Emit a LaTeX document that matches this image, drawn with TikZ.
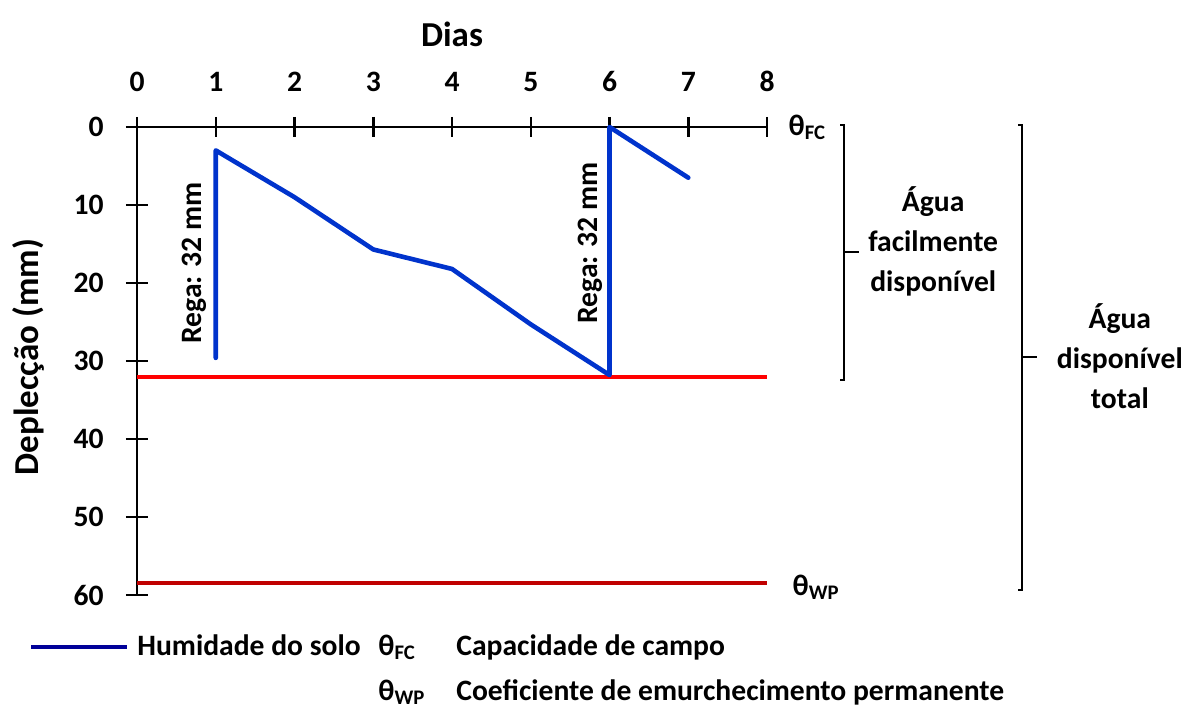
\documentclass[tikz,border=0pt]{standalone}
\usepackage{fontspec}
\setmainfont{Carlito}
\usetikzlibrary{calc}
\definecolor{soilblue}{RGB}{0,51,204}
\definecolor{legblue}{RGB}{0,0,153}
\definecolor{fcred}{RGB}{255,0,0}
\definecolor{wpred}{RGB}{192,0,0}
\tikzset{
	axis/.style = {line width = 1.25pt},
	lbl/.style = {font = \bfseries\fontsize{14.8}{20}\selectfont, inner sep = 0pt},
	ttl/.style = {font = \bfseries\fontsize{17.5}{21}\selectfont, inner sep = 0pt},
	brk/.style = {line width = 1.1pt},
	soil/.style = {soilblue, line width = 2.3pt, line join = round, line cap = round},
	limit/.style = {line width = 2.3pt}
}
\newcommand{\thsub}[1]{θ\textsubscript{#1}}

\begin{document}
\begin{tikzpicture}[x = 39.375pt, y = -3.9pt]
	\useasboundingbox (-1.7397,-16.28) rectangle (13.371,74.615);
	
	% frame
	\draw[axis] (0,0) coordinate (O) -- (8,0) coordinate (E);
	\draw[axis] (O) -- (0,60) coordinate (S);
	\foreach \d in {0,...,8} {
		\draw[axis] (\d,-1.3) -- (\d,1.3);
		\node[lbl] (d\d) at (\d,-5.83) {\d};
	}
	\foreach \m in {0,10,...,60} {
		\draw[axis] (-0.14,\m) -- (0.14,\m);
		\node[lbl, anchor = east] (m\m) at (-0.42,\m) {\m};
	}
	\node[ttl] (dias) at (4,-11.9) {Dias};
	\node[ttl, rotate = 90] (deplec) at (-1.384,29.5) {Deplecção (mm)};
	
	% limits
	\draw[limit, fcred] (0,32.05) coordinate (fc0) -- (8,32.05) coordinate (fc1);
	\draw[limit, wpred] (0,58.46) coordinate (wp0) -- (8,58.46) coordinate (wp1);
	\node[lbl, anchor = base west] (thfc) at (8.27,1.03) {\thsub{FC}};
	\node[lbl, anchor = base west] (thwp) at (8.32,60) {\thsub{WP}};
	
	% soil moisture
	\foreach \d/\m [count = \i] in {1/29.6,1/3,2/9,3/15.7,4/18.2,5/25.3,6/31.8,6/0,7/6.5}
	\coordinate (p\i) at (\d,\m);
	\draw[soil] (p1) -- (p2) -- (p3) -- (p4) -- (p5) -- (p6) -- (p7) -- (p8) -- (p9);
	\node[lbl, rotate = 90] (rega1) at (0.724,17.44) {Rega: 32 mm};
	\node[lbl, rotate = 90] (rega2) at (5.752,14.87) {Rega: 32 mm};
	
	% brackets
	\draw[brk] (8.93,-0.26) -- (8.978,-0.26) -- (8.978,32.4) -- (8.93,32.4);
	\draw[brk] (8.978,16) -- (9.17,16);
	\node[lbl, align = center] (afd) at (10.11,14.7) {Água\\facilmente\\disponível};
	\draw[brk] (11.19,-0.26) -- (11.238,-0.26) -- (11.238,59.4) -- (11.19,59.4);
	\draw[brk] (11.238,29.5) -- (11.43,29.5);
	\node[lbl, align = center] (adt) at (12.48,29.36) {Água\\disponível\\total};
	
	% legend
	\coordinate (leg0) at (-1.346,66.67);
	\coordinate (leg1) at (-0.127,66.67);
	\draw[legblue, line width = 2.3pt] (leg0) -- (leg1);
	\node[lbl, anchor = base west] (hum) at (0,67.7) {Humidade do solo};
	\node[lbl, anchor = base west] (lfc) at (3.06,67.7) {\thsub{FC}};
	\node[lbl, anchor = base west] (cap) at (4.05,67.7) {Capacidade de campo};
	\node[lbl, anchor = base west] (lwp) at (3.06,73.46) {\thsub{WP}};
	\node[lbl, anchor = base west] (coef) at (4.05,73.46) {Coeficiente de emurchecimento permanente};
	
\end{tikzpicture}
\end{document}
